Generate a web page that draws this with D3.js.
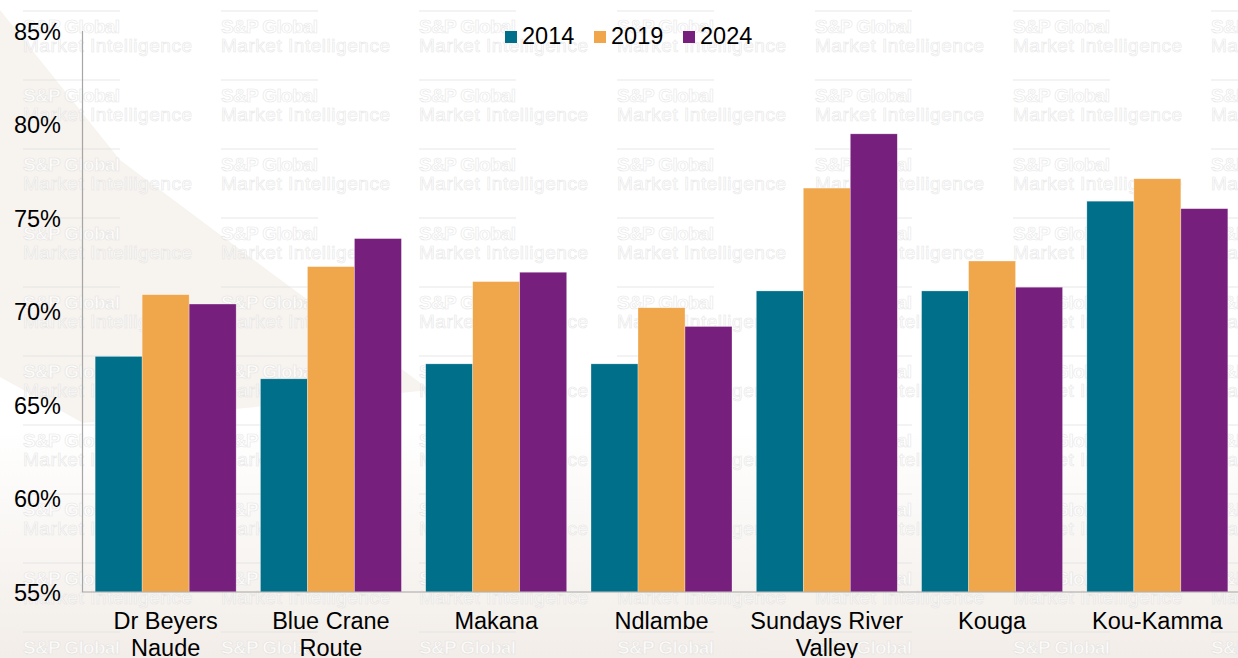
<!DOCTYPE html>
<meta charset="utf-8">
<style>
  html, body { margin: 0; padding: 0; background: #fff; }
  svg { display: block; font-family: "Liberation Sans", Arial, sans-serif; }
</style>
<body>
<svg id="chart" width="1238" height="658"></svg>
</body>
<script src="https://d3js.org/d3.v7.min.js"></script>
<script>

// data
var municipalities = ["Dr Beyers|Naude", "Blue Crane|Route", "Makana", "Ndlambe", "Sundays River|Valley", "Kouga", "Kou-Kamma"];
var years = ["2014", "2019", "2024"];
var values2014 = [67.6, 66.4, 67.2, 67.2, 71.1, 71.1, 75.9];
var values2019 = [70.9, 72.4, 71.6, 70.2, 76.6, 72.7, 77.1];
var values2024 = [70.4, 73.9, 72.1, 69.2, 79.5, 71.3, 75.5];
var yTicks = [55, 60, 65, 70, 75, 80, 85];
var colors = ["#006f8a", "#f0a64b", "#761f7c"];

var series = [values2014, values2019, values2024];

var svg = d3.select("#chart"),
    width = 1238,
    height = 658;

// --- background decoration ---
var defs = svg.append("defs");
var grad = defs.append("linearGradient").attr("id", "bottomFade")
    .attr("x1", 0).attr("y1", 0).attr("x2", 0).attr("y2", 1);
grad.append("stop").attr("offset", "0%").attr("stop-color", "#f3ede7").attr("stop-opacity", 0);
grad.append("stop").attr("offset", "100%").attr("stop-color", "#f2ede8").attr("stop-opacity", 1);

svg.append("rect").attr("x", 0).attr("y", 0).attr("width", width).attr("height", height).attr("fill", "#fff");
svg.append("path")
    .attr("d", "M0,10 L120,160 L270,272 L430,390 L330,400 L83,423 L0,377 Z")
    .attr("fill", "#f7f3ef");
svg.append("rect").attr("x", 0).attr("y", 430).attr("width", width).attr("height", height - 430)
    .attr("fill", "url(#bottomFade)");

// watermark grid (very faint, behind the bars)
var wm = svg.append("g").attr("class", "watermark").attr("opacity", 0.75);
d3.range(7).forEach(function(c) {
  d3.range(10).forEach(function(r) {
    var x0 = 23 + c * 198, y0 = 11 + r * 69;
    wm.append("line").attr("x1", x0).attr("x2", x0 + 97).attr("y1", y0).attr("y2", y0)
        .attr("stroke", "#e2e2e2").attr("stroke-width", 1.2);
    wm.append("text").attr("x", x0).attr("y", y0 + 22)
        .attr("font-size", 19).attr("font-weight", "bold")
        .attr("textLength", 97).attr("lengthAdjust", "spacing")
        .attr("fill", "#fff").attr("stroke", "#e0e0e0").attr("stroke-width", 0.6)
        .text("S&P Global");
    if (y0 + 41 < height) {
      wm.append("text").attr("x", x0).attr("y", y0 + 41)
          .attr("font-size", 19)
          .attr("textLength", 169).attr("lengthAdjust", "spacing")
          .attr("fill", "#fff").attr("stroke", "#e0e0e0").attr("stroke-width", 0.6)
          .text("Market Intelligence");
    }
  });
});

// --- scales ---
var x0 = d3.scaleBand().domain(municipalities).range([83, 1240])
    .paddingInner(0.147).paddingOuter(0.0735);
var x1 = d3.scaleBand().domain(years).range([0, x0.bandwidth()]);
var y = d3.scaleLinear().domain([55, 85]).range([592, 31]);

// --- bars ---
var groups = svg.append("g").selectAll("g")
    .data(municipalities)
    .join("g")
    .attr("transform", d => "translate(" + x0(d) + ",0)");

groups.selectAll("rect")
    .data((d, i) => years.map((yr, j) => ({ year: yr, value: series[j][i], color: colors[j] })))
    .join("rect")
    .attr("x", d => x1(d.year))
    .attr("y", d => y(d.value))
    .attr("width", x1.bandwidth())
    .attr("height", d => y(55) - y(d.value))
    .attr("fill", d => d.color)
    .attr("stroke", "rgba(255,255,255,0.5)")
    .attr("stroke-width", 0.6);

// --- axes ---
svg.append("line").attr("x1", 82.5).attr("x2", 82.5).attr("y1", y(85)).attr("y2", y(55))
    .attr("stroke", "#a6a6a6").attr("stroke-width", 1.2);
svg.append("line").attr("x1", 82).attr("x2", width).attr("y1", 592).attr("y2", 592)
    .attr("stroke", "#a6a6a6").attr("stroke-width", 1.2);

var yAxis = d3.axisLeft(y).tickValues(yTicks).tickSize(0).tickPadding(0).tickFormat(d => d + "%");
svg.append("g")
    .attr("transform", "translate(61,0)")
    .call(yAxis)
    .call(g => g.select(".domain").remove())
    .selectAll("text")
    .attr("font-size", 23.5)
    .attr("font-family", "Liberation Sans, Arial, sans-serif")
    .attr("fill", "#000")
    .attr("dy", "0.34em");

// x labels (two lines where needed)
var xLabels = svg.append("g").selectAll("text")
    .data(municipalities)
    .join("text")
    .attr("x", d => x0(d) + x0.bandwidth() / 2)
    .attr("y", 629)
    .attr("text-anchor", "middle")
    .attr("font-size", 23.5)
    .attr("fill", "#000");
xLabels.each(function(d) {
  var parts = d.split("|");
  var t = d3.select(this);
  parts.forEach(function(p, i) {
    t.append("tspan").attr("x", x0(d) + x0.bandwidth() / 2).attr("dy", i === 0 ? 0 : 27).text(p);
  });
});

// --- legend ---
var legend = svg.append("g").attr("transform", "translate(505,0)");
years.forEach(function(yr, i) {
  var g = legend.append("g").attr("transform", "translate(" + (i * 89) + ",0)");
  g.append("rect").attr("x", 0).attr("y", 31).attr("width", 12).attr("height", 12).attr("fill", colors[i]);
  g.append("text").attr("x", 17).attr("y", 44).attr("font-size", 23.5).attr("fill", "#000").text(yr);
});

</script>
